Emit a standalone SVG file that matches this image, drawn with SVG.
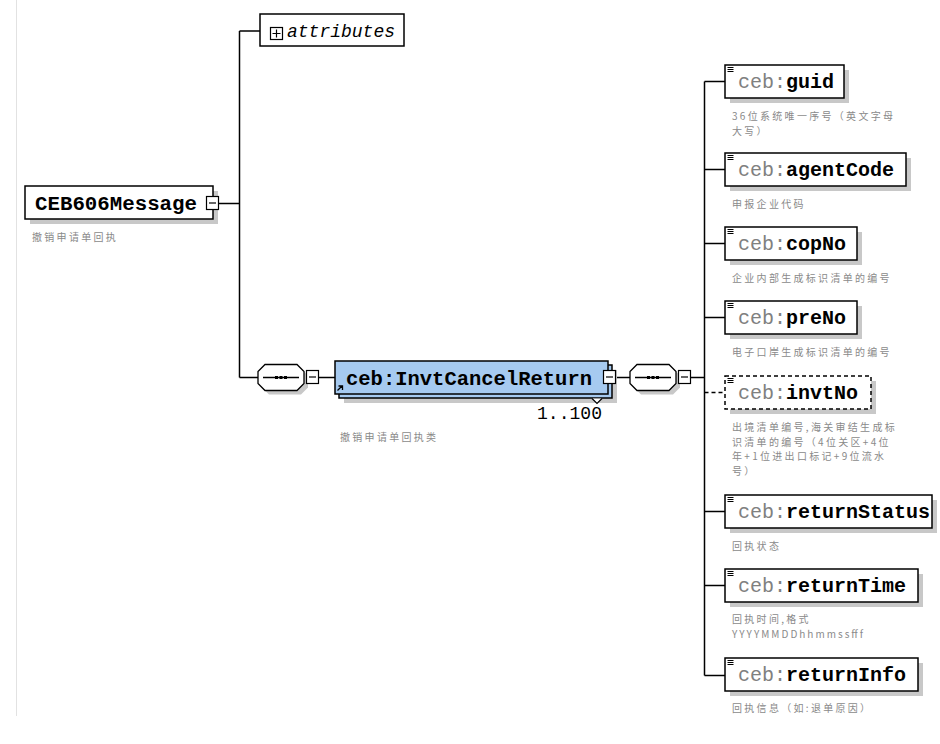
<svg xmlns="http://www.w3.org/2000/svg" width="940" height="744" viewBox="0 0 940 744">
<style>
.bg{fill:#ffffff}
.box{fill:#ffffff;stroke:#000;stroke-width:1.5}
.dbox{fill:#ffffff;stroke:#000;stroke-width:1.5;stroke-dasharray:4 3}
.shadow{fill:#c8c8c8}
.ref{fill:#a6caf0;stroke:#000;stroke-width:1.5}
.ln{fill:none;stroke:#000;stroke-width:1.5}
.dln{fill:none;stroke:#000;stroke-width:1.5;stroke-dasharray:4 3}
.ico{fill:none;stroke:#000;stroke-width:1}
.name{font-family:"Liberation Mono","DejaVu Sans Mono",monospace;font-size:20px;font-weight:bold;fill:#000}
.pre{font-weight:normal;fill:#808080}
.cmt{font-family:"Noto Sans CJK SC","Noto Sans",sans-serif;font-size:10px;fill:#8a8a8a;letter-spacing:2.3px}
.attr{font-family:"Liberation Mono","DejaVu Sans Mono",monospace;font-size:18px;font-style:italic;fill:#000}
.occ{font-family:"Liberation Mono","DejaVu Sans Mono",monospace;font-size:18px;fill:#000}
</style>
<defs>
<g id="ebar"><path class="ico" d="M0.5 0.5h6M0.5 2.5h6M0.5 4.5h6"/></g>
<g id="minus"><rect x="0" y="0" width="12" height="13" fill="#fff" stroke="#000" stroke-width="1.2"/><path d="M2.5 6.5h7" stroke="#000" stroke-width="1.2"/></g>
<g id="seq"><polygon points="8,0 40,0 47,7 47,19 40,26 8,26 1,19 1,7" fill="#c8c8c8" transform="translate(4,4)"/><polygon points="8,0 40,0 47,7 47,19 40,26 8,26 1,19 1,7" fill="#fff" stroke="#000" stroke-width="1.3"/><path d="M6 13h36" stroke="#000" stroke-width="1.3"/><rect x="18" y="11.5" width="3" height="3" fill="#000"/><rect x="22.5" y="11.5" width="3" height="3" fill="#000"/><rect x="27" y="11.5" width="3" height="3" fill="#000"/></g>
</defs>
<rect class="bg" x="0" y="0" width="940" height="744"/>
<line x1="16.5" y1="0" x2="16.5" y2="716" stroke="#e2e2e2" stroke-width="1"/>

<g id="connectors">
<path class="ln" d="M219 203.5H239.5M239.5 31V377.5M239.5 31H260M239.5 377.5H258"/>
<path class="ln" d="M319 377.5H335"/>
<path class="ln" d="M616 377.5H630"/>
<path class="ln" d="M691 377.5H704.5"/>
<path class="ln" d="M704.5 81.5V675.5"/>
<path class="ln" d="M704.5 81.5H725M704.5 169.5H725M704.5 243.5H725M704.5 317.5H725M704.5 511.5H725M704.5 585.5H725M704.5 675.5H725"/>
<path class="dln" d="M704.5 392.5H725"/>
</g>

<g id="node-root">
<rect class="shadow" x="30" y="191" width="188" height="33"/>
<rect class="box" x="25" y="186" width="188" height="33"/>
<text class="name" x="35" y="210" textLength="162" lengthAdjust="spacingAndGlyphs">CEB606Message</text>
<use href="#minus" x="206.5" y="196.5"/>
<text class="cmt" x="32" y="241">撤销申请单回执</text>
</g>

<g id="node-attributes">
<rect class="box" x="260" y="14" width="144" height="32"/>
<rect x="270.5" y="27.5" width="12" height="12" fill="#fff" stroke="#000" stroke-width="1.2"/>
<path d="M272.5 33.5h8M276.5 29.5v8" stroke="#000" stroke-width="1.2"/>
<text class="attr" x="287" y="37" textLength="108" lengthAdjust="spacingAndGlyphs">attributes</text>
</g>

<g id="node-seq1">
<use href="#seq" x="257" y="364.5"/>
<use href="#minus" x="306.5" y="370.5"/>
</g>

<g id="node-InvtCancelReturn">
<rect class="shadow" x="344" y="370" width="273" height="33"/>
<rect class="ref" x="339" y="365" width="273" height="33"/>
<rect class="ref" x="335" y="361" width="273" height="33"/>
<path d="M592 398.5L597 403.5L602 398.5" fill="#fff" stroke="#000" stroke-width="1.2"/>
<text class="name" x="346" y="385" textLength="246" lengthAdjust="spacingAndGlyphs">ceb:InvtCancelReturn</text>
<path d="M337.5 390.5L342 386M338.5 386H342.5V390" fill="none" stroke="#000" stroke-width="1.3"/>
<use href="#minus" x="603.5" y="370.5"/>
<text class="occ" x="537" y="419" textLength="65" lengthAdjust="spacingAndGlyphs">1..100</text>
<text class="cmt" x="340" y="441">撤销申请单回执类</text>
</g>

<g id="node-seq2">
<use href="#seq" x="629" y="364.5"/>
<use href="#minus" x="678.5" y="370.5"/>
</g>

<g id="node-guid">
<rect class="shadow" x="730" y="70" width="119" height="33"/>
<rect class="box" x="725" y="65" width="119" height="33"/>
<use href="#ebar" x="727" y="67"/>
<text class="name" x="738" y="88"><tspan class="pre">ceb:</tspan>guid</text>
<text class="cmt" x="732" y="120">36位系统唯一序号（英文字母</text>
<text class="cmt" x="732" y="135">大写）</text>
</g>

<g id="node-agentCode">
<rect class="shadow" x="730" y="158" width="181" height="33"/>
<rect class="box" x="725" y="153" width="181" height="33"/>
<use href="#ebar" x="727" y="155"/>
<text class="name" x="738" y="176"><tspan class="pre">ceb:</tspan>agentCode</text>
<text class="cmt" x="732" y="208">申报企业代码</text>
</g>

<g id="node-copNo">
<rect class="shadow" x="730" y="232" width="132" height="33"/>
<rect class="box" x="725" y="227" width="132" height="33"/>
<use href="#ebar" x="727" y="229"/>
<text class="name" x="738" y="250"><tspan class="pre">ceb:</tspan>copNo</text>
<text class="cmt" x="732" y="282">企业内部生成标识清单的编号</text>
</g>

<g id="node-preNo">
<rect class="shadow" x="730" y="306" width="132" height="33"/>
<rect class="box" x="725" y="301" width="132" height="33"/>
<use href="#ebar" x="727" y="303"/>
<text class="name" x="738" y="324"><tspan class="pre">ceb:</tspan>preNo</text>
<text class="cmt" x="732" y="356">电子口岸生成标识清单的编号</text>
</g>

<g id="node-invtNo">
<rect class="shadow" x="730" y="381" width="146" height="33"/>
<rect class="dbox" x="725" y="376" width="146" height="33"/>
<use href="#ebar" x="727" y="378"/>
<text class="name" x="738" y="399"><tspan class="pre">ceb:</tspan>invtNo</text>
<text class="cmt" x="732" y="431">出境清单编号,海关审结生成标</text>
<text class="cmt" x="732" y="445.5">识清单的编号（4位关区+4位</text>
<text class="cmt" x="732" y="460">年+1位进出口标记+9位流水</text>
<text class="cmt" x="732" y="474.5">号）</text>
</g>

<g id="node-returnStatus">
<rect class="shadow" x="730" y="500" width="207" height="33"/>
<rect class="box" x="725" y="495" width="207" height="33"/>
<use href="#ebar" x="727" y="497"/>
<text class="name" x="738" y="518"><tspan class="pre">ceb:</tspan>returnStatus</text>
<text class="cmt" x="732" y="550">回执状态</text>
</g>

<g id="node-returnTime">
<rect class="shadow" x="730" y="574" width="193" height="33"/>
<rect class="box" x="725" y="569" width="193" height="33"/>
<use href="#ebar" x="727" y="571"/>
<text class="name" x="738" y="592"><tspan class="pre">ceb:</tspan>returnTime</text>
<text class="cmt" x="732" y="623">回执时间,格式</text>
<text class="cmt" x="732" y="637.5" style="letter-spacing:0" textLength="131" lengthAdjust="spacing">YYYYMMDDhhmmssfff</text>
</g>

<g id="node-returnInfo">
<rect class="shadow" x="730" y="663" width="193" height="33"/>
<rect class="box" x="725" y="658" width="193" height="33"/>
<use href="#ebar" x="727" y="660"/>
<text class="name" x="738" y="681"><tspan class="pre">ceb:</tspan>returnInfo</text>
<text class="cmt" x="732" y="712">回执信息（如:退单原因）</text>
</g>
</svg>
